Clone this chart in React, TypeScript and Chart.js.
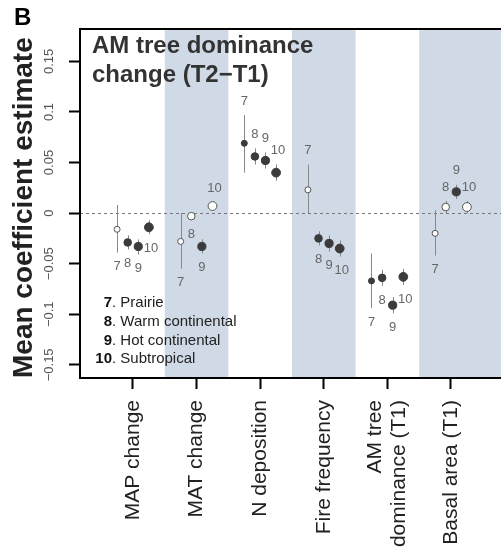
import React, { useEffect, useRef } from 'react';
import { Chart, registerables } from 'chart.js';

Chart.register(...registerables);

// ---------- data ----------
const categories: (string | string[])[] = [
  'MAP change',
  'MAT change',
  'N deposition',
  'Fire frequency',
  ['AM tree', 'dominance (T1)'],
  'Basal area (T1)',
];
const regionIds = ['7', '8', '9', '10'];
const regionNames = ['Prairie', 'Warm continental', 'Hot continental', 'Subtropical'];

// Region 7 (Prairie)
const est7 = [-0.016, -0.028, 0.069, 0.023, -0.067, -0.020];
const lo7 = [-0.039, -0.055, 0.040, 0.000, -0.094, -0.042];
const hi7 = [0.008, 0.000, 0.097, 0.048, -0.040, 0.003];
const sig7 = [false, false, true, false, true, false];
const lab7 = ['b', 'b', 'a', 'a', 'b', 'b'];

// Region 8 (Warm continental)
const est8 = [-0.029, -0.003, 0.056, -0.025, -0.064, 0.006];
const lo8 = [-0.036, -0.007, 0.048, -0.032, -0.072, 0.000];
const hi8 = [-0.022, 0.001, 0.064, -0.018, -0.056, 0.012];
const sig8 = [true, false, true, true, true, false];
const lab8 = ['b', 'b', 'a', 'b', 'b', 'a'];

// Region 9 (Hot continental)
const est9 = [-0.033, -0.033, 0.052, -0.030, -0.091, 0.021];
const lo9 = [-0.041, -0.040, 0.044, -0.038, -0.099, 0.014];
const hi9 = [-0.026, -0.026, 0.060, -0.022, -0.083, 0.028];
const sig9 = [true, true, true, true, true, true];
const lab9 = ['b', 'b', 'a', 'b', 'b', 'a'];

// Region 10 (Subtropical)
const est10 = [-0.014, 0.007, 0.040, -0.035, -0.063, 0.006];
const lo10 = [-0.021, 0.003, 0.032, -0.043, -0.071, 0.000];
const hi10 = [-0.007, 0.011, 0.048, -0.027, -0.055, 0.012];
const sig10 = [true, false, true, true, true, false];
const lab10 = ['b', 'a', 'a', 'b', 'b', 'a'];

const yTickValues = [-0.15, -0.1, -0.05, 0, 0.05, 0.1, 0.15];
const yTickLabels = ['\u22120.15', '\u22120.1', '\u22120.05', '0', '0.05', '0.1', '0.15'];
const shadedCategories = [1, 3, 5];

// ---------- styling ----------
const FONT = "'Liberation Sans', Arial, Helvetica, sans-serif";
const DODGE = [-0.25, -0.083, 0.083, 0.25];
const RADII = [3, 3.8, 4.1, 4.4];
const FILL = '#3b3b3b';
const OPEN_BORDER = '#555555';
const BAND = '#cfdae6';

const ests = [est7, est8, est9, est10];
const los = [lo7, lo8, lo9, lo10];
const his = [hi7, hi8, hi9, hi10];
const sigs = [sig7, sig8, sig9, sig10];
const labs = [lab7, lab8, lab9, lab10];

const backgroundPlugin = {
  id: 'bg',
  beforeDraw(chart: any) {
    const { ctx, chartArea } = chart;
    const xs = chart.scales.x;
    const ys = chart.scales.y;
    ctx.save();
    ctx.fillStyle = BAND;
    shadedCategories.forEach((i) => {
      const x1 = Math.max(chartArea.left, xs.getPixelForValue(i - 0.5));
      const x2 =
        i === categories.length - 1
          ? chartArea.right
          : Math.min(chartArea.right, xs.getPixelForValue(i + 0.5));
      ctx.fillRect(x1, chartArea.top, x2 - x1, chartArea.bottom - chartArea.top);
    });
    const y0 = ys.getPixelForValue(0);
    ctx.strokeStyle = '#777';
    ctx.lineWidth = 1;
    ctx.setLineDash([3, 3]);
    ctx.beginPath();
    ctx.moveTo(chartArea.left, Math.round(y0) + 0.5);
    ctx.lineTo(chartArea.right, Math.round(y0) + 0.5);
    ctx.stroke();
    ctx.restore();
  },
};

const errorBarPlugin = {
  id: 'errbars',
  beforeDatasetsDraw(chart: any) {
    const { ctx } = chart;
    const xs = chart.scales.x;
    const ys = chart.scales.y;
    ctx.save();
    ctx.strokeStyle = '#888';
    ctx.lineWidth = 1;
    for (let k = 0; k < regionIds.length; k++) {
      for (let i = 0; i < categories.length; i++) {
        const px = Math.round(xs.getPixelForValue(i + DODGE[k])) + 0.5;
        ctx.beginPath();
        ctx.moveTo(px, ys.getPixelForValue(los[k][i]));
        ctx.lineTo(px, ys.getPixelForValue(his[k][i]));
        ctx.stroke();
      }
    }
    ctx.restore();
  },
};

const textPlugin = {
  id: 'texts',
  afterDraw(chart: any) {
    const { ctx, chartArea } = chart;
    const xs = chart.scales.x;
    const ys = chart.scales.y;
    ctx.save();
    // top frame line
    ctx.strokeStyle = '#000';
    ctx.lineWidth = 2;
    ctx.beginPath();
    ctx.moveTo(chartArea.left - 1, chartArea.top);
    ctx.lineTo(chartArea.right, chartArea.top);
    ctx.stroke();

    // point labels (region numbers)
    ctx.fillStyle = '#666';
    ctx.font = `13px ${FONT}`;
    ctx.textAlign = 'center';
    ctx.textBaseline = 'middle';
    for (let k = 0; k < regionIds.length; k++) {
      for (let i = 0; i < categories.length; i++) {
        const px = xs.getPixelForValue(i + DODGE[k]);
        const above = labs[k][i] === 'a';
        const end = ys.getPixelForValue(above ? his[k][i] : los[k][i]);
        const py = above ? end - 14 : end + 14;
        ctx.fillText(regionIds[k], px + (regionIds[k] === '10' ? 2 : 0), py);
      }
    }

    // x category labels, rotated, lines centred on tick
    ctx.fillStyle = '#222';
    ctx.font = `21px ${FONT}`;
    ctx.textAlign = 'right';
    ctx.textBaseline = 'middle';
    const labelTop = chartArea.bottom + 22;
    const lh = 24;
    categories.forEach((c, i) => {
      const lines = Array.isArray(c) ? c : [c];
      const px = xs.getPixelForValue(i);
      lines.forEach((line, j) => {
        const cx = px + (j - (lines.length - 1) / 2) * lh;
        ctx.save();
        ctx.translate(cx, labelTop);
        ctx.rotate(-Math.PI / 2);
        ctx.fillText(line, 0, 0);
        ctx.restore();
      });
    });

    // panel letter
    ctx.fillStyle = '#000';
    ctx.font = `bold 24px ${FONT}`;
    ctx.textAlign = 'left';
    ctx.textBaseline = 'alphabetic';
    ctx.fillText('B', 14, 25);

    // panel title
    ctx.fillStyle = '#333';
    ctx.font = `bold 24px ${FONT}`;
    ctx.fillText('AM tree dominance', chartArea.left + 12, chartArea.top + 24);
    ctx.fillText('change (T2\u2212T1)', chartArea.left + 12, chartArea.top + 53);

    // legend
    const legX = chartArea.left + 32;
    const legY0 = 303;
    const legStep = 18.7;
    ctx.textBaseline = 'middle';
    regionIds.forEach((id, k) => {
      const y = legY0 + k * legStep;
      ctx.font = `bold 15px ${FONT}`;
      ctx.fillStyle = '#111';
      ctx.textAlign = 'right';
      ctx.fillText(id, legX, y);
      ctx.font = `15px ${FONT}`;
      ctx.fillStyle = '#222';
      ctx.textAlign = 'left';
      ctx.fillText('. ' + regionNames[k], legX, y);
    });
    ctx.restore();
  },
};

export default function App() {
  const ref = useRef<HTMLCanvasElement | null>(null);

  useEffect(() => {
    const canvas = ref.current;
    if (!canvas) return;
    const datasets = regionIds.map((id, k) => ({
      label: id,
      data: ests[k].map((v, i) => ({ x: i + DODGE[k], y: v })),
      pointRadius: RADII[k],
      pointHoverRadius: RADII[k],
      pointBorderWidth: 1,
      pointBackgroundColor: sigs[k].map((s) => (s ? FILL : '#ffffff')),
      pointBorderColor: sigs[k].map((s) => (s ? FILL : OPEN_BORDER)),
      showLine: false,
    }));

    const chart = new Chart(canvas, {
      type: 'scatter',
      data: { datasets },
      options: {
        responsive: false,
        animation: false,
        events: [],
        layout: { padding: { top: 29, left: 0, right: 0, bottom: 0 } },
        plugins: {
          legend: { display: false },
          tooltip: { enabled: false },
          title: { display: false },
        },
        scales: {
          x: {
            type: 'linear',
            position: 'bottom',
            min: -0.833,
            max: 6.0,
            afterBuildTicks: (s: any) => {
              s.ticks = categories.map((_, i) => ({ value: i }));
            },
            afterFit: (s: any) => {
              s.height = 180;
            },
            ticks: { display: false },
            grid: {
              display: true,
              drawOnChartArea: false,
              drawTicks: true,
              tickLength: 11,
              tickColor: '#000',
              tickWidth: 2,
            },
            border: { display: true, color: '#000', width: 2 },
          },
          y: {
            type: 'linear',
            min: -0.163,
            max: 0.182,
            afterBuildTicks: (s: any) => {
              s.ticks = yTickValues.map((v) => ({ value: v }));
            },
            afterFit: (s: any) => {
              s.width = 80;
            },
            ticks: {
              callback: (_v: any, i: number) => yTickLabels[i],
              minRotation: 90,
              maxRotation: 90,
              crossAlign: 'center',
              padding: 3,
              color: '#555',
              font: { size: 13, family: FONT },
            },
            grid: {
              display: true,
              drawOnChartArea: false,
              drawTicks: true,
              tickLength: 11,
              tickColor: '#000',
              tickWidth: 2,
            },
            border: { display: true, color: '#000', width: 2 },
            title: {
              display: true,
              text: 'Mean coefficient estimate',
              align: 'start',
              color: '#222',
              font: { size: 28, weight: 'bold', family: FONT },
              padding: { top: 7, bottom: 0 },
            },
          },
        },
      } as any,
      plugins: [backgroundPlugin, errorBarPlugin, textPlugin],
    });
    return () => chart.destroy();
  }, []);

  return (
    <div style={{ position: 'absolute', left: 0, top: 0, width: 501, height: 558, overflow: 'hidden' }}>
      <canvas ref={ref} width={520} height={558} style={{ display: 'block' }} />
    </div>
  );
}
